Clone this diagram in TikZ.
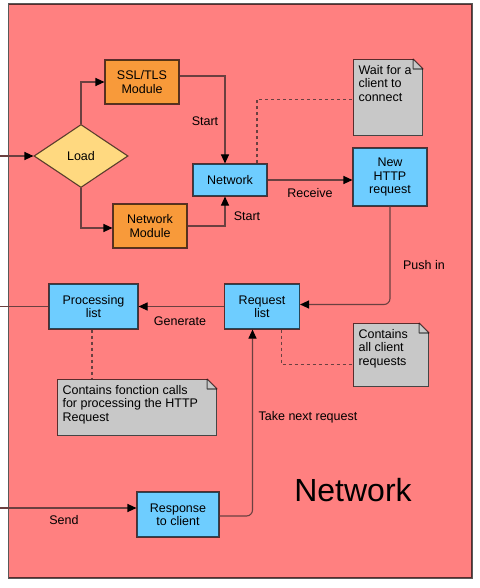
\documentclass[tikz,border=0pt]{standalone}
\usepackage{fontspec}
\setmainfont{Liberation Sans}
\usepackage{xcolor}
\usetikzlibrary{shapes.geometric, arrows.meta}

\definecolor{netred}{HTML}{FF8080}
\definecolor{modorange}{HTML}{F89A3A}
\definecolor{stepblue}{HTML}{6ECDFF}
\definecolor{loadyellow}{HTML}{FFD980}
\definecolor{notegray}{HTML}{C8C8C8}
\definecolor{wire}{HTML}{6A4040}

\tikzset{
  boxline/.style={draw=black, draw opacity=0.65, line width=1.1pt},
  stepbox/.style={boxline, fill=stepblue, align=center, inner sep=2pt},
  modbox/.style={boxline, fill=modorange, align=center, inner sep=2pt,
    minimum width=74pt, minimum height=44pt},
  notebox/.style={boxline, fill=notegray, anchor=north west,
    inner xsep=5pt, inner ysep=6pt},
  wireline/.style={draw=wire, line width=1.1pt},
  flow/.style={wireline, -{Triangle[length=9pt, width=8pt, color=black]}},
  hint/.style={wireline, line width=1.3pt, dash pattern=on 3pt off 3pt},
}

% text block of a note: height, width, lines
\newcommand{\notetext}[3]{\parbox[c][#1][t]{#2}{\raggedright #3}}

% folded corner of a note
\newcommand{\dogear}[1]{%
  \fill[netred] ([xshift=-11pt,yshift=1pt]#1.north east) -- ([xshift=1pt,yshift=1pt]#1.north east)
     -- ([xshift=1pt,yshift=-11pt]#1.north east) -- cycle;
  \draw[boxline, line join=bevel] ([xshift=-10pt]#1.north east) -- ([yshift=-10pt]#1.north east)
     -- ([xshift=-10pt,yshift=-10pt]#1.north east) -- cycle;
}

\begin{document}
\begin{tikzpicture}[x=1pt, y=-1pt, font=\fontsize{12.5}{13.3}\selectfont]
  \useasboundingbox (0,0) rectangle (479,588);

  % Frame
  \draw[boxline, fill=netred] (8.5,4) rectangle (472,578);
  \node (title) at (353,490) {\fontsize{32}{38}\selectfont Network};

  % Start up
  \node[diamond, boxline, fill=loadyellow, minimum width=94pt, minimum height=63pt, inner sep=0pt]
     (load) at (81,156) {Load};
  \node[modbox] (ssl) at (142,82) {SSL/TLS\\Module};
  \node[modbox] (netmod) at (150,226) {Network\\Module};
  \node[stepbox, minimum width=74pt, minimum height=32pt] (net) at (230,180) {Network};
  \node[stepbox, minimum width=74pt, minimum height=58pt] (http) at (390,177) {New\\HTTP\\request};

  % Lists
  \node[stepbox, minimum width=89pt, minimum height=45pt] (proclist) at (93.5,306.5) {Processing\\list};
  \node[stepbox, minimum width=75pt, minimum height=45pt] (reqlist) at (262,306.5) {Request\\list};
  \node[stepbox, minimum width=82pt, minimum height=45pt] (resp) at (178,514.5) {Response\\to client};

  % Notes
  \node[notebox] (wait) at (353,59) {\notetext{64pt}{59pt}{Wait for a\\client to\\connect}};
  \node[notebox] (allreq) at (353,323) {\notetext{51pt}{65pt}{Contains\\all client\\requests}};
  \node[notebox] (fonc) at (57,379)
     {\notetext{44pt}{149pt}{Contains fonction calls\\for processing the HTTP\\Request}};
  \dogear{wait}
  \dogear{allreq}
  \dogear{fonc}

  % Outside ends
  \coordinate (inL) at (0,156);
  \coordinate (outP) at (0,306.5);
  \coordinate (inS) at (0,508);

  % Connectors
  \draw[flow] (inL) -- (load.west);
  \draw[flow] (load.north) |- (ssl.west);
  \draw[flow] (load.south) |- ([yshift=-2pt]netmod.west);
  \draw[flow] ([yshift=6pt]ssl.east) -| ([xshift=-5pt]net.north);
  \draw[flow] (netmod.east) -| ([xshift=-5pt]net.south);
  \draw[flow] (net.east) -- (net.east -| http.west);
  \draw[flow, rounded corners=6pt] (http.south) |- ([yshift=2pt]reqlist.east);
  \draw[flow] (reqlist.west) -- (proclist.east);
  \draw[wireline] (proclist.west) -- (outP);
  \draw[flow, rounded corners=6pt] ([yshift=-1.5pt]resp.east) -| ([xshift=-9.5pt]reqlist.south);
  \draw[flow] (inS) -- (inS -| resp.west);

  % Dotted links to notes
  \draw[hint] ([xshift=27pt]net.north) |- ([yshift=-2pt]wait.west);
  \draw[hint] ([xshift=-1.5pt]proclist.south) -- ([xshift=-1.5pt]proclist.south |- fonc.north);
  \draw[hint] ([xshift=19.5pt]reqlist.south) |- ([yshift=-9.5pt]allreq.west);

  % Labels
  \node (lstart) at (205,121) {Start};
  \node (lstart2) at (247,216) {Start};
  \node (lrecv) at (310,193) {Receive};
  \node (lpush) at (424,265) {Push in};
  \node (lgen) at (180,321) {Generate};
  \node (ltake) at (308,417) {Take next request};
  \node (lsend) at (64,520) {Send};
\end{tikzpicture}
\end{document}
